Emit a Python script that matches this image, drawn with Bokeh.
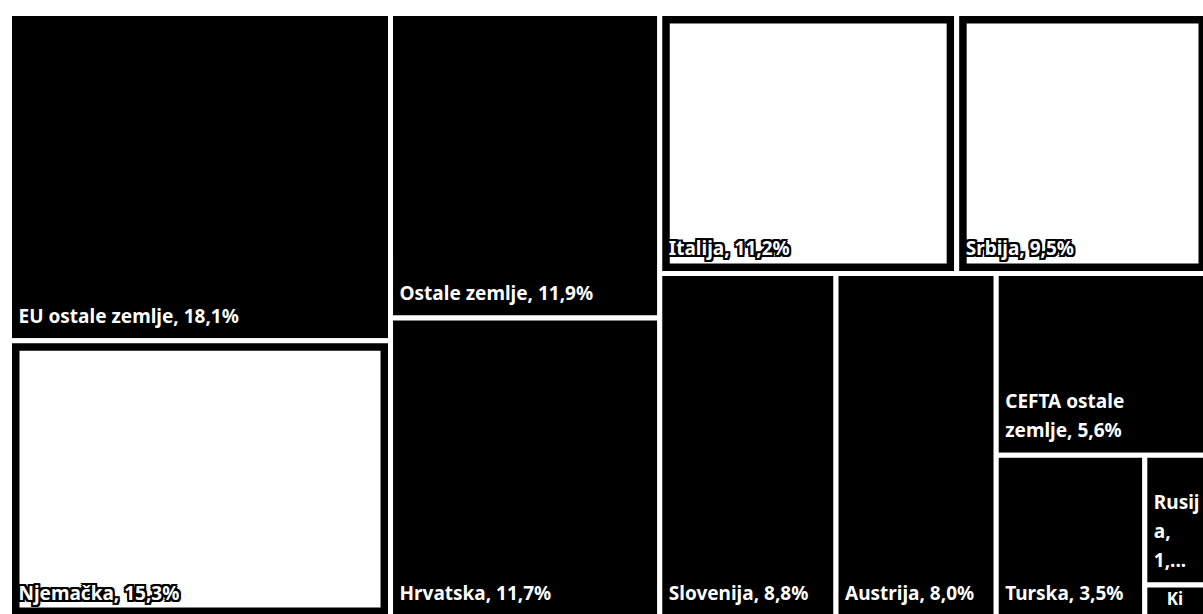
from bokeh.plotting import figure
from bokeh.models import Range1d, ColumnDataSource
from bokeh.embed import file_html
from bokeh.resources import INLINE
from bokeh.core.properties import value

# ---- data ----
names = ["EU ostale zemlje", "Njemačka", "Ostale zemlje", "Hrvatska", "Italija",
         "Srbija", "Slovenija", "Austrija", "CEFTA ostale zemlje", "Turska",
         "Rusija", "Kina"]
shares = [18.1, 15.3, 11.9, 11.7, 11.2, 9.5, 8.8, 8.0, 5.6, 3.5, 1.2, 0.3]
labels = ["EU ostale zemlje, 18,1%", "Njemačka, 15,3%", "Ostale zemlje, 11,9%",
          "Hrvatska, 11,7%", "Italija, 11,2%", "Srbija, 9,5%", "Slovenija, 8,8%",
          "Austrija, 8,0%", "CEFTA ostale\nzemlje, 5,6%", "Turska, 3,5%",
          "Rusij\na,\n1,...", "Ki"]
highlighted = ["Njemačka", "Italija", "Srbija"]

# ---- treemap layout (strips, in the order Excel placed them) ----
strips = [("col", 2), ("col", 2), ("row", 2), ("col", 1), ("col", 1),
          ("row", 1), ("col", 1), ("col", 2)]
X0, Y0, X1, Y1 = 9.0, 13.0, 1208.0, 617.0

lefts, rights, tops, bottoms = [], [], [], []
i = 0
x0, y0, x1, y1 = X0, Y0, X1, Y1
for orient, n in strips:
    group = shares[i:i + n]
    rest = sum(shares[i:])
    frac = sum(group) / rest
    if orient == "col":
        w = (x1 - x0) * frac
        yy = y0
        for v in group:
            h = (y1 - y0) * v / sum(group)
            lefts.append(x0); rights.append(x0 + w); tops.append(yy); bottoms.append(yy + h)
            yy += h
        x0 += w
    else:
        h = (y1 - y0) * frac
        xx = x0
        for v in group:
            w = (x1 - x0) * v / sum(group)
            lefts.append(xx); rights.append(xx + w); tops.append(y0); bottoms.append(y0 + h)
            xx += w
        y0 += h
    i += n

src = ColumnDataSource(dict(left=lefts, right=rights, top=tops, bottom=bottoms, name=names))

hi = [k for k, nm in enumerate(names) if nm in highlighted]
INSET = 10.0
src_hi = ColumnDataSource(dict(
    left=[lefts[k] + INSET for k in hi], right=[rights[k] - INSET for k in hi],
    top=[tops[k] + INSET for k in hi], bottom=[bottoms[k] - INSET for k in hi]))


def label_source(idx, anchor_top):
    if anchor_top:
        return ColumnDataSource(dict(x=[lefts[k] + 22 for k in idx],
                                     y=[tops[k] + 2 for k in idx],
                                     text=[labels[k] for k in idx]))
    return ColumnDataSource(dict(x=[lefts[k] + 9 for k in idx],
                                 y=[bottoms[k] - 12 for k in idx],
                                 text=[labels[k] for k in idx]))


tall = [k for k in range(len(names)) if bottoms[k] - tops[k] >= 40]
short = [k for k in range(len(names)) if bottoms[k] - tops[k] < 40]
dark_b = label_source([k for k in tall if k not in hi], False)
light_b = label_source([k for k in tall if k in hi], False)
dark_t = label_source(short, True)

p = figure(width=1203, height=614, output_backend="svg", toolbar_location=None,
           x_range=Range1d(0, 1203), y_range=Range1d(614, 0),
           min_border=0, min_border_left=0, min_border_right=0,
           min_border_top=0, min_border_bottom=0)
p.axis.visible = False
p.grid.visible = False
p.outline_line_color = None
p.background_fill_color = "white"
p.border_fill_color = "white"

p.quad(left="left", right="right", top="top", bottom="bottom", source=src,
       fill_color="black", line_color="white", line_width=5)
p.quad(left="left", right="right", top="top", bottom="bottom", source=src_hi,
       fill_color="white", line_color=None)

common = dict(text_font=value("Noto Sans"), text_font_style="bold",
              text_font_size="19px", text_align="left", text_line_height=1.12)
p.text(x="x", y="y", text="text", source=dark_b, text_baseline="bottom",
       text_color="white", **common)
p.text(x="x", y="y", text="text", source=dark_t, text_baseline="top",
       text_color="white", text_font_size="17px", text_font_style="bold",
       text_font=value("Noto Sans"), text_align="left")
# labels on light tiles: dark halo behind white text
for dx in (-2, 0, 2):
    for dy in (-2, 0, 2):
        if dx == 0 and dy == 0:
            continue
        p.text(x="x", y="y", text="text", source=light_b, text_baseline="bottom",
               text_color="black", x_offset=dx, y_offset=dy, **common)
p.text(x="x", y="y", text="text", source=light_b, text_baseline="bottom",
       text_color="white", **common)

open("out.html", "w").write(file_html(p, INLINE))
